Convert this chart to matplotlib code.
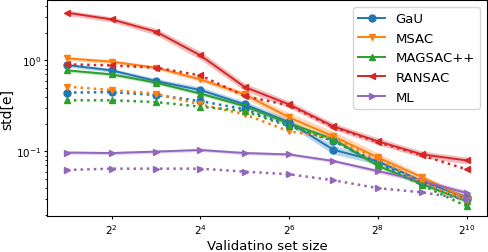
import numpy as np
import matplotlib
matplotlib.use("Agg")
import matplotlib.pyplot as plt
from matplotlib.ticker import LogFormatterMathtext, NullLocator, FixedLocator

x = [2, 4, 8, 16, 32, 64, 128, 256, 512, 1024]
xticks = [4, 16, 64, 256, 1024]

names = ["GaU", "MSAC", "MAGSAC++", "RANSAC", "ML"]
markers = ["o", "v", "^", "<", ">"]
colors = ["C0", "C1", "C2", "C3", "C4"]

# solid series (mean curves)
gau = [0.888, 0.777, 0.592, 0.472, 0.328, 0.209, 0.104, 0.0775, 0.0468, 0.0312]
msac = [1.052, 0.968, 0.831, 0.618, 0.423, 0.236, 0.146, 0.0859, 0.0518, 0.0305]
magsac = [0.777, 0.702, 0.569, 0.431, 0.315, 0.203, 0.136, 0.0694, 0.0435, 0.0283]
ransac = [3.34, 2.82, 2.07, 1.135, 0.509, 0.328, 0.188, 0.129, 0.0925, 0.0795]
ml = [0.097, 0.0958, 0.0994, 0.1035, 0.0958, 0.0925, 0.0783, 0.0607, 0.0472, 0.0348]

# dotted series
gau_d = [0.442, 0.448, 0.416, 0.357, 0.290, 0.193, 0.129, 0.0757, 0.0445, 0.0297]
msac_d = [0.514, 0.472, 0.431, 0.328, 0.255, 0.166, 0.140, 0.0818, 0.0457, 0.0290]
magsac_d = [0.364, 0.364, 0.348, 0.310, 0.277, 0.188, 0.132, 0.0720, 0.0424, 0.0249]
ransac_d = [0.904, 0.881, 0.831, 0.684, 0.405, 0.320, 0.184, 0.126, 0.0902, 0.0634]
ml_d = [0.0624, 0.0645, 0.0645, 0.0645, 0.0598, 0.0560, 0.0481, 0.0394, 0.0354, 0.0297]

# band half-widths (multiplicative factor)
gau_b = [1.05, 1.05, 1.07, 1.08, 1.08, 1.09, 1.12, 1.08, 1.06, 1.06]
msac_b = [1.05, 1.05, 1.05, 1.06, 1.08, 1.12, 1.14, 1.12, 1.07, 1.06]
magsac_b = [1.04, 1.04, 1.04, 1.04, 1.05, 1.05, 1.06, 1.05, 1.05, 1.05]
ransac_b = [1.07, 1.07, 1.09, 1.11, 1.10, 1.09, 1.09, 1.09, 1.09, 1.09]
ml_b = [1.04, 1.04, 1.04, 1.04, 1.04, 1.04, 1.04, 1.05, 1.06, 1.08]

solid = [gau, msac, magsac, ransac, ml]
dotted = [gau_d, msac_d, magsac_d, ransac_d, ml_d]
bands = [gau_b, msac_b, magsac_b, ransac_b, ml_b]

fig = plt.figure(figsize=(4.88, 2.53), dpi=100)
ax = fig.add_axes([0.097, 0.142, 0.9, 0.853])

for name, m, c, s, b in zip(names, markers, colors, solid, bands):
    s = np.array(s); b = np.array(b)
    ax.fill_between(x, s / b, s * b, color=c, alpha=0.3, linewidth=0)
    ax.plot(x, s, marker=m, color=c, linewidth=1.4, markersize=5, label=name)

for m, c, d in zip(markers, colors, dotted):
    ax.plot(x, d, marker=m, color=c, linewidth=1.8, linestyle=":", markersize=5)

ax.set_xscale("log", base=2)
ax.set_yscale("log")
ax.xaxis.set_major_locator(FixedLocator(xticks))
ax.xaxis.set_major_formatter(LogFormatterMathtext(base=2))
ax.xaxis.set_minor_locator(NullLocator())
ax.tick_params(which="major", labelsize=7.5, length=2.5, pad=2)
ax.tick_params(which="minor", length=1.5)
ax.set_xlabel("Validatino set size", fontsize=9.5, labelpad=2)
ax.set_ylabel("std[e]", fontsize=10, labelpad=1)
ax.legend(loc="upper right", fontsize=9.5)

fig.savefig("out.png", dpi=100)
